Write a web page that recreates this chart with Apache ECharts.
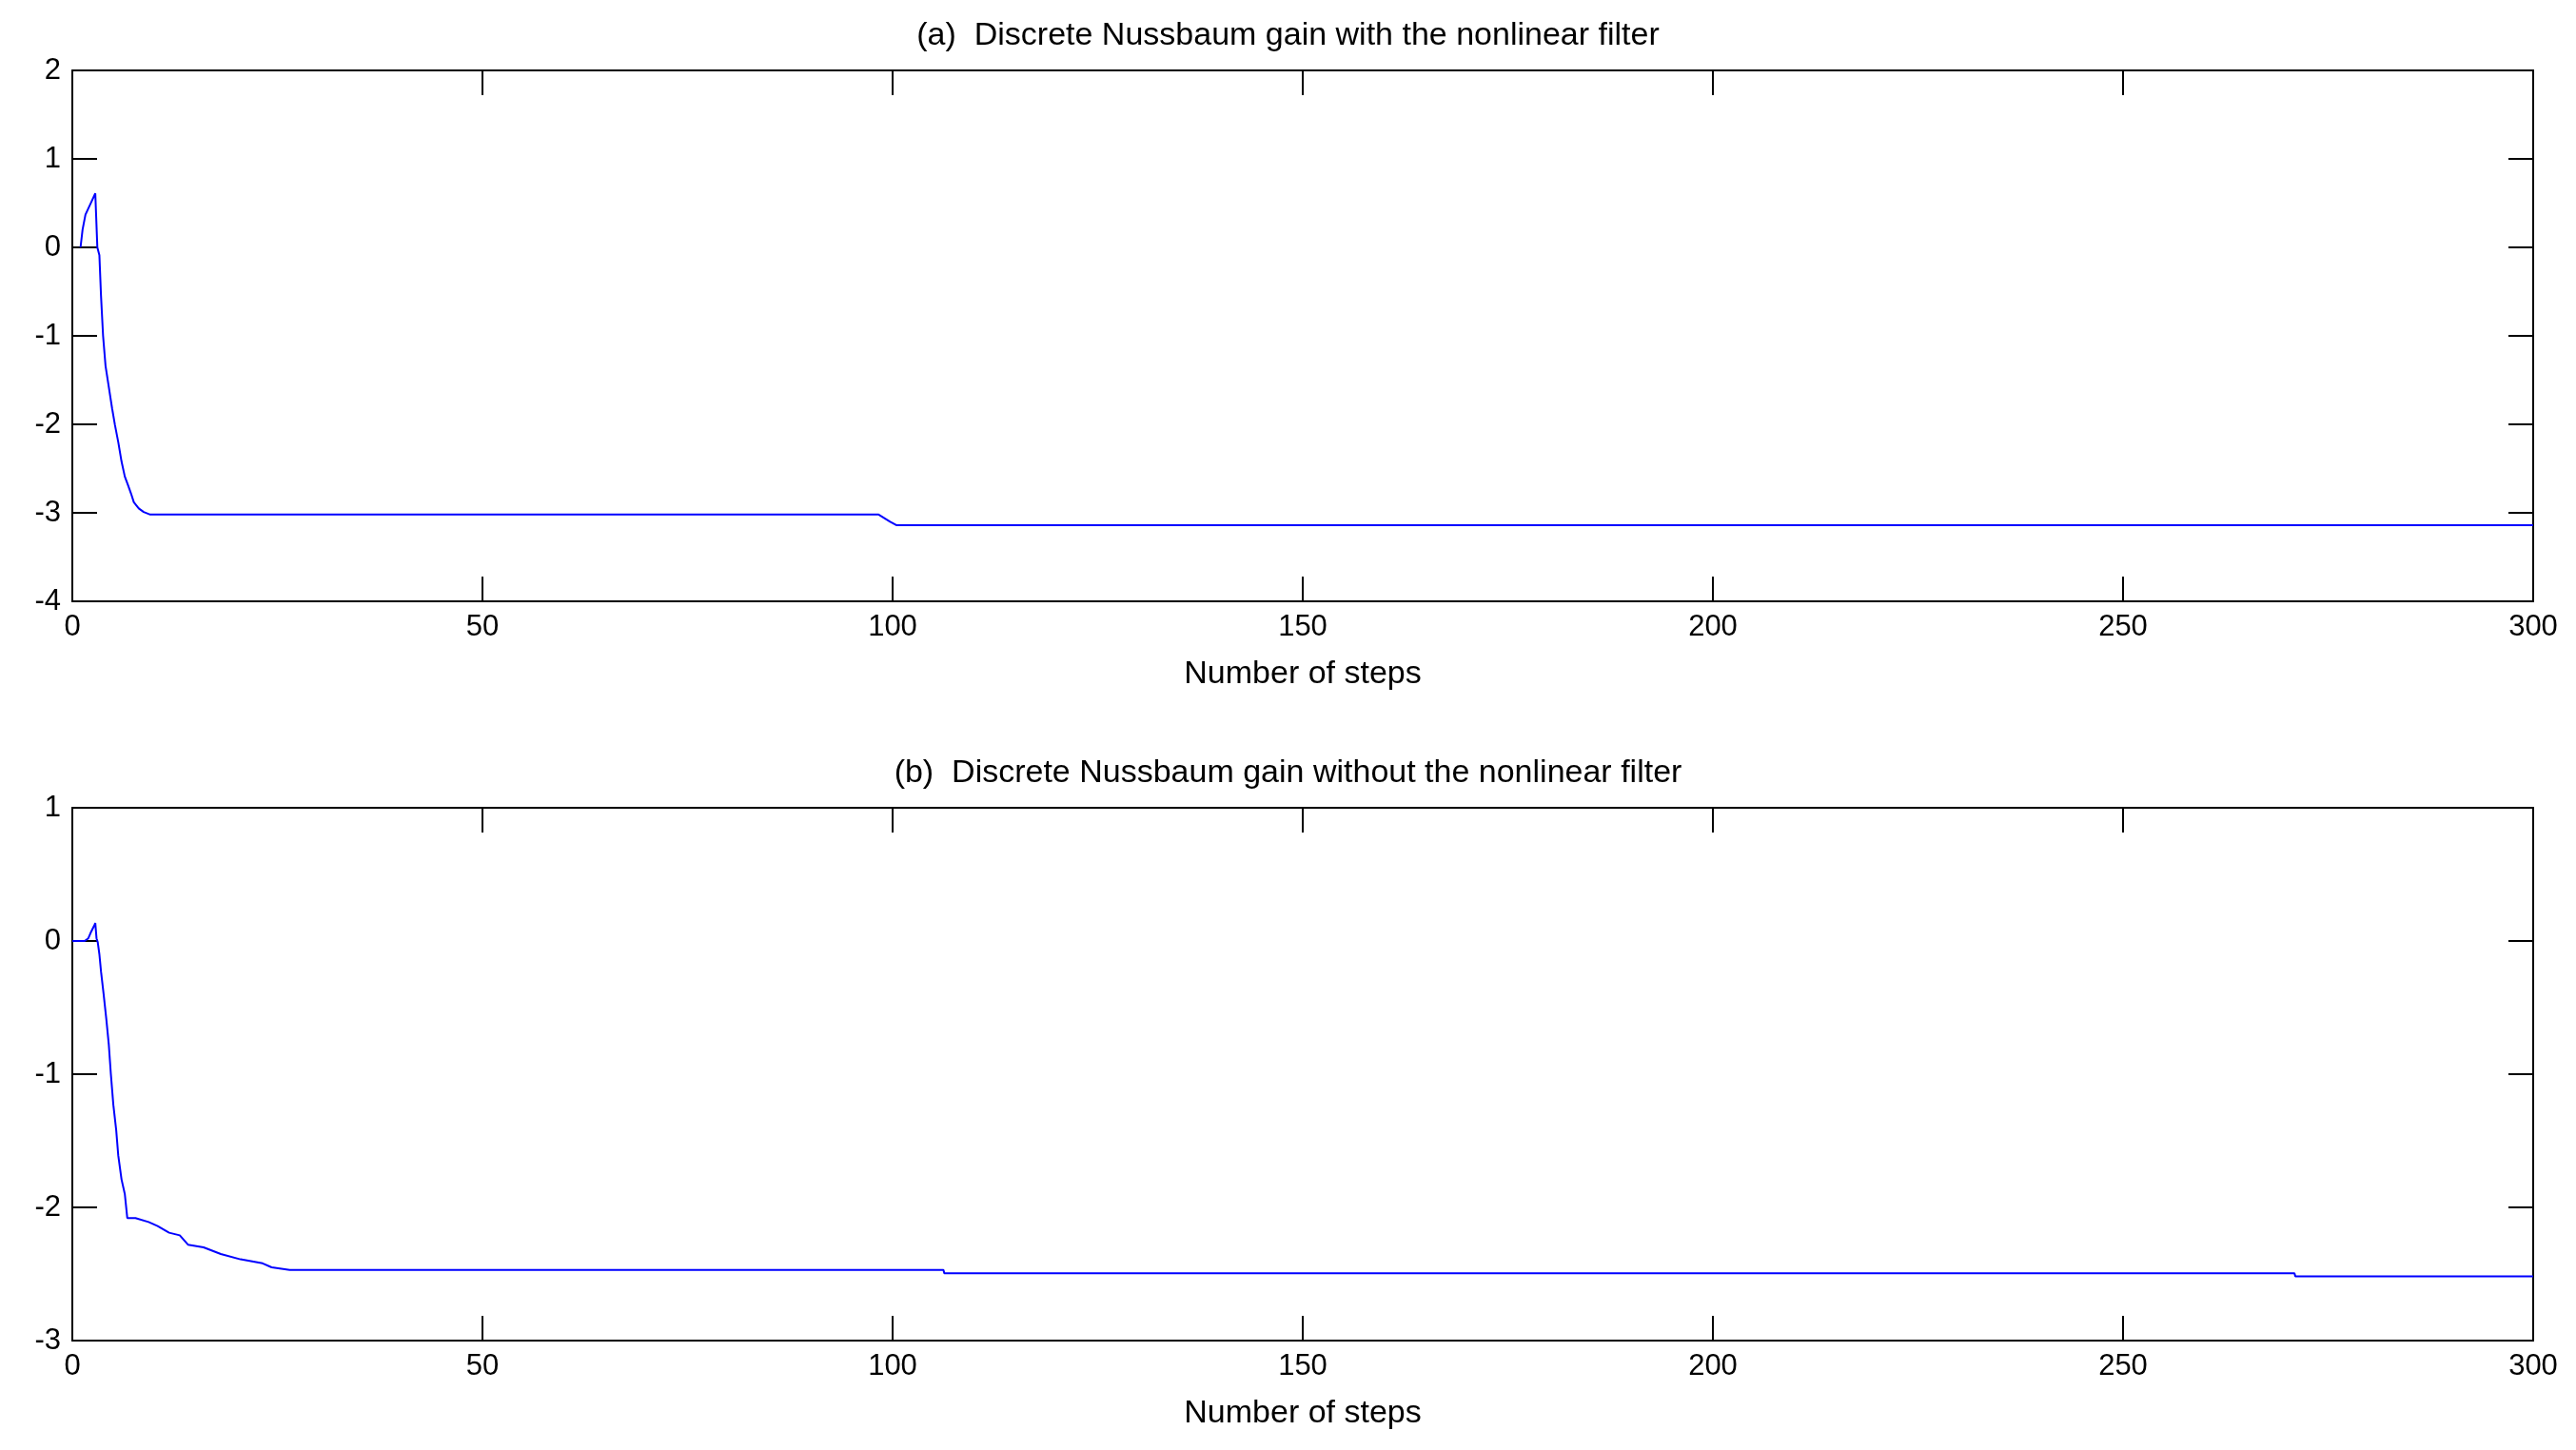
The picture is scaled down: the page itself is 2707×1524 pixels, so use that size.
<!DOCTYPE html>
<html>
<head>
<meta charset="utf-8">
<script src="https://cdn.jsdelivr.net/npm/echarts@6/dist/echarts.min.js"></script>
<style>
  html, body { margin: 0; padding: 0; background: #fff; }
  #chart { width: 2707px; height: 1524px; }
</style>
</head>
<body>
<div id="chart"></div>
<script>
// (a) with the nonlinear filter
var stepsA = [1, 1.25, 1.6, 1.95, 2.3, 2.8, 3.05, 3.3, 3.5, 3.75, 4.05, 4.45, 4.85, 5.2, 5.6, 6.0, 6.4, 6.8, 7.15, 7.5, 8.1, 8.7, 9.5, 98.3, 99, 99.7, 100.5, 300]
var gainA = [0, 0.2, 0.37, 0.44, 0.51, 0.61, 0, -0.09, -0.55, -1.0, -1.34, -1.58, -1.82, -2.01, -2.2, -2.42, -2.59, -2.69, -2.78, -2.88, -2.95, -2.99, -3.02, -3.02, -3.06, -3.1, -3.14, -3.14]

// (b) without the nonlinear filter
var stepsB = [0, 1.5, 1.95, 2.3, 2.7, 2.8, 2.95, 3.1, 3.3, 3.5, 3.8, 4.15, 4.45, 4.7, 5.0, 5.35, 5.6, 6.0, 6.4, 6.7, 7.7, 9.3, 10.4, 11.8, 13.1, 14.1, 16.0, 18.1, 20.5, 23.2, 24.3, 26.5, 106.2, 106.3, 270.9, 271, 300]
var gainB = [0, 0, 0.02, 0.07, 0.12, 0.135, 0.02, -0.01, -0.1, -0.23, -0.39, -0.59, -0.78, -1.0, -1.23, -1.42, -1.61, -1.79, -1.9, -2.08, -2.08, -2.11, -2.14, -2.19, -2.21, -2.28, -2.3, -2.35, -2.39, -2.42, -2.45, -2.47, -2.47, -2.495, -2.495, -2.517, -2.517]

var xTicks = [0, 50, 100, 150, 200, 250, 300]
var titles = [
  '(a)  Discrete Nussbaum gain with the nonlinear filter',
  '(b)  Discrete Nussbaum gain without the nonlinear filter'
]
var xName = 'Number of steps'

var FONT = '"Liberation Sans", Arial, sans-serif'
var FS = 31 // tick labels
var FS_TEXT = 34 // titles and axis names

function pairs(xs, ys) {
  return xs.map(function (x, i) { return [x, ys[i]] })
}

function xAxisOf(gridIndex, pos, withLabels) {
  return {
    type: 'value',
    gridIndex: gridIndex,
    position: pos,
    min: xTicks[0],
    max: xTicks[xTicks.length - 1],
    interval: 50,
    name: withLabels ? xName : '',
    nameLocation: 'middle',
    nameGap: 60,
    nameTextStyle: { color: '#000', fontSize: FS_TEXT, fontFamily: FONT },
    axisLine: { show: true, onZero: false, lineStyle: { color: '#000', width: 2 } },
    axisTick: { show: true, inside: true, length: 26, lineStyle: { color: '#000', width: 2 } },
    axisLabel: { show: withLabels, color: '#000', fontSize: FS, fontFamily: FONT, margin: 12 },
    splitLine: { show: false }
  }
}

function yAxisOf(gridIndex, pos, min, max, withLabels) {
  return {
    type: 'value',
    gridIndex: gridIndex,
    position: pos,
    min: min,
    max: max,
    interval: 1,
    axisLine: { show: true, onZero: false, lineStyle: { color: '#000', width: 2 } },
    axisTick: { show: true, inside: true, length: 26, lineStyle: { color: '#000', width: 2 } },
    axisLabel: { show: withLabels, color: '#000', fontSize: FS, fontFamily: FONT, margin: 12 },
    splitLine: { show: false }
  }
}

var chart = echarts.init(document.getElementById('chart'))
chart.setOption({
  backgroundColor: '#fff',
  animation: false,
  title: [
    { text: titles[0], left: 'center', top: 16, textStyle: { color: '#000', fontSize: FS_TEXT, fontWeight: 'normal', fontFamily: FONT } },
    { text: titles[1], left: 'center', top: 791, textStyle: { color: '#000', fontSize: FS_TEXT, fontWeight: 'normal', fontFamily: FONT } }
  ],
  grid: [
    { left: 76, right: 45, top: 74, height: 558 },
    { left: 76, right: 45, top: 849, height: 560 }
  ],
  xAxis: [
    xAxisOf(0, 'bottom', true),
    xAxisOf(0, 'top', false),
    xAxisOf(1, 'bottom', true),
    xAxisOf(1, 'top', false)
  ],
  yAxis: [
    yAxisOf(0, 'left', -4, 2, true),
    yAxisOf(0, 'right', -4, 2, false),
    yAxisOf(1, 'left', -3, 1, true),
    yAxisOf(1, 'right', -3, 1, false)
  ],
  series: [
    {
      type: 'line',
      xAxisIndex: 0,
      yAxisIndex: 0,
      data: pairs(stepsA, gainA),
      showSymbol: false,
      lineStyle: { color: '#0000ff', width: 2 },
      z: 3
    },
    {
      type: 'line',
      xAxisIndex: 2,
      yAxisIndex: 2,
      data: pairs(stepsB, gainB),
      showSymbol: false,
      lineStyle: { color: '#0000ff', width: 2 },
      z: 3
    }
  ]
})
</script>
</body>
</html>
